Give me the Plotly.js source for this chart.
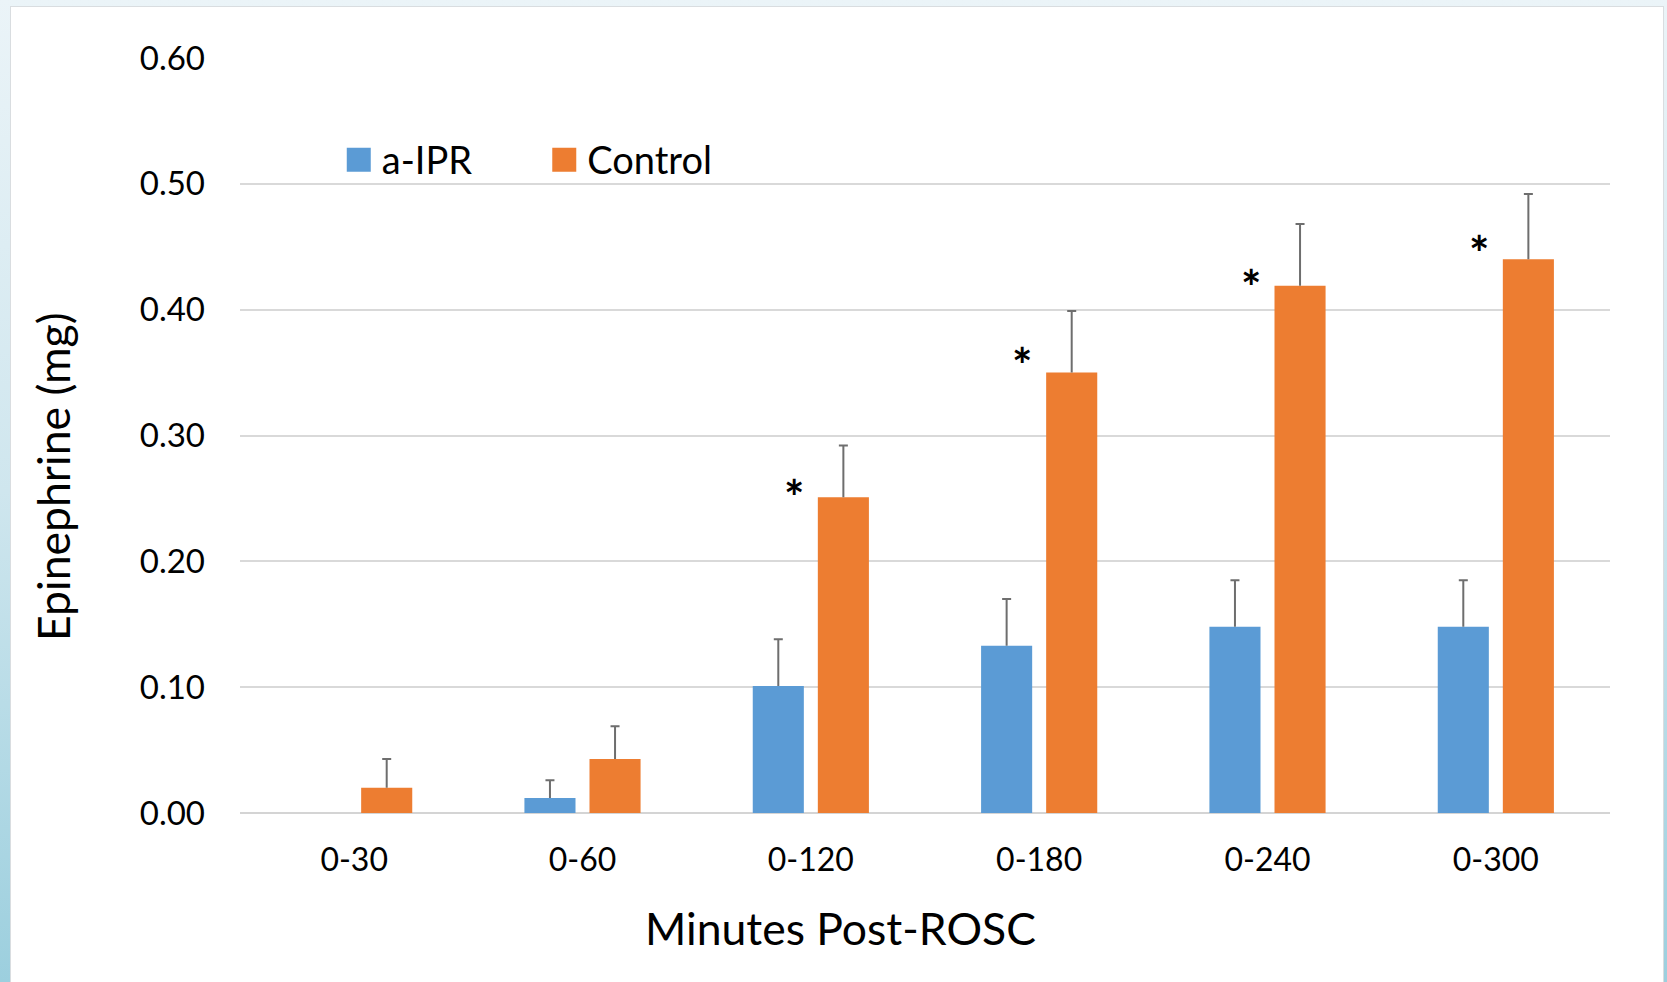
<!DOCTYPE html>
<html>
<head>
<meta charset="utf-8">
<script src="https://cdn.plot.ly/plotly-3.0.1.min.js"></script>
<style>
  html, body { margin: 0; padding: 0; width: 1667px; height: 982px; overflow: hidden; }
  body { background: linear-gradient(to bottom, #ebf4f8 0%, #cfe6ee 50%, #9ccfde 100%); position: relative; }
  #panel { position: absolute; left: 10px; top: 6px; width: 1654px; height: 990px; background: #ffffff; border: 1px solid #d9dde0; box-sizing: border-box; }
  #chart { position: absolute; left: 0; top: 0; width: 1667px; height: 982px; }
</style>
</head>
<body>
<div id="panel"></div>
<div id="chart"></div>
<script>
// ---- data ----
const categories = ['0-30', '0-60', '0-120', '0-180', '0-240', '0-300'];
const aiprValues = [0, 0.012, 0.101, 0.133, 0.148, 0.148];
const aiprErrors = [0, 0.014, 0.037, 0.037, 0.037, 0.037];
const controlValues = [0.020, 0.043, 0.251, 0.350, 0.419, 0.440];
const controlErrors = [0.023, 0.026, 0.041, 0.049, 0.049, 0.052];
const starLevels = [null, null, 0.258, 0.363, 0.425, 0.452];
const yTickValues = [0, 0.1, 0.2, 0.3, 0.4, 0.5, 0.6];
const xTitle = 'Minutes Post-ROSC';
const yTitle = 'Epinephrine (mg)';

const FONT = 'Lato, "Open Sans", sans-serif';

const traces = [
  {
    type: 'bar', name: 'a-IPR', x: categories, y: aiprValues,
    marker: { color: '#5B9BD5', line: { width: 0 } },
    error_y: { type: 'data', array: aiprErrors, symmetric: false, arrayminus: aiprValues.map(() => 0),
               color: '#6e6e6e', thickness: 2, width: 4.5 },
    hoverinfo: 'x+y'
  },
  {
    type: 'bar', name: 'Control', x: categories, y: controlValues,
    marker: { color: '#ED7D31', line: { width: 0 } },
    error_y: { type: 'data', array: controlErrors, symmetric: false, arrayminus: controlValues.map(() => 0),
               color: '#6e6e6e', thickness: 2, width: 4.5 },
    hoverinfo: 'x+y'
  }
];

const annotations = [];
categories.forEach((c, i) => {
  if (starLevels[i] !== null) {
    annotations.push({
      x: c, y: starLevels[i], xref: 'x', yref: 'y', text: '<b>*</b>',
      showarrow: false, xshift: -17, yshift: -8, yanchor: 'middle', xanchor: 'center',
      font: { family: FONT, size: 48, color: '#000000' }
    });
  }
});
// axis titles placed as in the reference (off-centre)
annotations.push({
  xref: 'paper', yref: 'paper', x: 0.438, y: -0.151, xanchor: 'center', yanchor: 'middle',
  text: xTitle, showarrow: false, font: { family: FONT, size: 44.5, color: '#000000' }
});
annotations.push({
  xref: 'paper', yref: 'paper', x: -0.1365, y: 0.4464, xanchor: 'center', yanchor: 'middle',
  text: yTitle, textangle: -90, showarrow: false, font: { family: FONT, size: 44.5, color: '#000000' }
});

const layout = {
  width: 1667, height: 982,
  margin: { l: 240, r: 57, t: 58, b: 169, autoexpand: false },
  paper_bgcolor: 'rgba(0,0,0,0)', plot_bgcolor: 'rgba(0,0,0,0)',
  font: { family: FONT, color: '#000000' },
  barmode: 'group', bargap: 0.43, bargroupgap: 0.215,
  showlegend: true,
  legend: {
    orientation: 'h', x: 0.0699, xanchor: 'left', y: 0.865, yanchor: 'middle',
    font: { family: FONT, size: 38, color: '#000000' },
    bgcolor: 'rgba(0,0,0,0)', itemwidth: 36, entrywidth: 154.5, traceorder: 'normal'
  },
  xaxis: {
    type: 'category', showgrid: false, zeroline: false, showline: false, ticks: '',
    tickfont: { family: FONT, size: 32, color: '#000000' }, ticklabelstandoff: 25,
    automargin: false
  },
  yaxis: {
    range: [0, 0.6], tickvals: yTickValues, tickformat: '.2f',
    showgrid: true, gridcolor: '#d9d9d9', gridwidth: 1.5,
    zeroline: true, zerolinecolor: '#d4d4d4', zerolinewidth: 2,
    showline: false, ticks: '',
    tickfont: { family: FONT, size: 33, color: '#000000' }, ticklabelstandoff: 34,
    automargin: false
  },
  annotations: annotations
};

const gd = document.getElementById('chart');
function touchUp() {
  gd.querySelectorAll('.legend .legendpoints path').forEach(p => {
    p.setAttribute('d', 'M12,12H-12V-12H12Z');
  });
  // error bars only extend upward: drop the lower cross-bar that sits on the bar top,
  // and hide error bars of zero length
  gd.querySelectorAll('.errorbar path.yerror').forEach(p => {
    let d = (p.getAttribute('d') || '').replace(/m-[\d.]+,0h[\d.]+\s*$/, '');
    const m = d.match(/^M[-\d.e]+,([-\d.e]+).*V([-\d.e]+)/);
    if (m && Math.abs(parseFloat(m[1]) - parseFloat(m[2])) < 0.5) d = 'M0,0';
    p.setAttribute('d', d);
  });
}
Plotly.newPlot(gd, traces, layout, { displayModeBar: false }).then(() => {
  touchUp();
  gd.on('plotly_afterplot', touchUp);
});
</script>
</body>
</html>
